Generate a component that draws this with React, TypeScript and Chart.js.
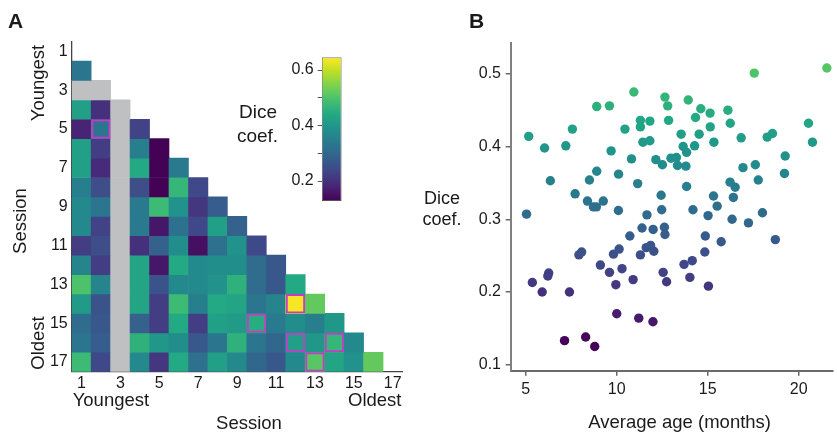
import React, { useEffect, useRef } from 'react';
import { Chart, registerables } from 'chart.js';

Chart.register(...registerables);

const FONT = "'Liberation Sans', Arial, Helvetica, sans-serif";

// ---------- Panel A data: pairwise Dice coefficients between sessions ----------
const sessions = ['1', '2', '3', '4', '5', '6', '7', '8', '9', '10', '11', '12', '13', '14', '15', '16', '17'];
const sessionTicks = [1, 3, 5, 7, 9, 11, 13, 15, 17];
// row r holds the values for columns 1..r-1 ; null = missing session (3)
const row01: (number | null)[] = [];
const row02 = [0.33];
const row03 = [null, null];
const row04 = [0.42, 0.2, null];
const row05 = [0.18, 0.33, null, 0.23];
const row06 = [0.42, 0.22, null, 0.35, 0.13];
const row07 = [0.42, 0.19, null, 0.44, 0.13, 0.34];
const row08 = [0.35, 0.25, null, 0.25, 0.13, 0.47, 0.24];
const row09 = [0.37, 0.33, null, 0.34, 0.48, 0.39, 0.21, 0.28];
const row10 = [0.37, 0.23, null, 0.34, 0.16, 0.32, 0.24, 0.42, 0.29];
const row11 = [0.22, 0.25, null, 0.2, 0.29, 0.38, 0.15, 0.32, 0.39, 0.24];
const row12 = [0.36, 0.22, null, 0.43, 0.16, 0.44, 0.37, 0.38, 0.38, 0.31, 0.27];
const row13 = [0.5, 0.36, null, 0.43, 0.26, 0.37, 0.37, 0.39, 0.46, 0.31, 0.27, 0.44];
const row14 = [0.41, 0.26, null, 0.43, 0.22, 0.48, 0.35, 0.44, 0.43, 0.33, 0.36, 0.64, 0.52];
const row15 = [0.31, 0.27, null, 0.29, 0.22, 0.44, 0.22, 0.42, 0.41, 0.45, 0.34, 0.38, 0.35, 0.4];
const row16 = [0.33, 0.28, null, 0.46, 0.4, 0.38, 0.27, 0.33, 0.46, 0.33, 0.3, 0.42, 0.4, 0.47, 0.37];
const row17 = [0.48, 0.24, null, 0.37, 0.21, 0.44, 0.32, 0.42, 0.37, 0.3, 0.27, 0.37, 0.51, 0.43, 0.39, 0.52];
const diceRows = [row01, row02, row03, row04, row05, row06, row07, row08, row09, row10, row11, row12, row13, row14, row15, row16, row17];
// highlighted cells [row, column]
const highlightRows = [5, 14, 15, 16, 16, 17];
const highlightCols = [2, 12, 10, 12, 14, 13];

// colour bar
const cbarMin = 0.128;
const cbarMax = 0.646;
const cbarTicks = [0.2, 0.3, 0.4, 0.5, 0.6];
const cbarLabelled = [0.2, 0.4, 0.6];

// ---------- Panel B data: Dice coefficient vs average age ----------
const ageMonths = [
  5.16, 5.04, 6.03, 6.35, 5.36, 5.9, 6.26, 6.21, 7.2, 7.56,
  7.71, 7.4, 7.13, 8.29, 8.79, 7.92, 8.07, 8.9, 9.6, 8.5,
  8.9, 8.39, 8.72, 8.88, 9.26, 9.69, 9.1, 9.6, 9.82, 10.13,
  9.95, 10.29, 10.0, 10.09, 10.1, 10.45, 10.81, 10.94, 11.15, 10.72,
  10.9, 11.3, 11.39, 11.21, 11.99, 11.3, 11.3, 11.44, 11.82, 11.82,
  11.66, 11.62, 11.86, 12.04, 12.0, 12.15, 12.51, 12.65, 12.8, 12.85,
  12.44, 12.47, 12.62, 12.65, 12.55, 12.74, 12.98, 13.28, 13.34, 13.8,
  13.54, 13.65, 13.84, 13.93, 13.84, 14.19, 13.7, 14.15, 14.02, 14.33,
  14.28, 14.53, 14.62, 15.13, 15.14, 15.34, 14.87, 14.84, 15.04, 15.02,
  15.32, 15.52, 15.74, 16.11, 16.24, 16.23, 16.51, 16.41, 16.34, 16.84,
  16.94, 17.24, 17.56, 17.62, 17.78, 18.01, 18.27, 18.56, 18.72, 19.26,
  19.22, 20.54, 20.76, 21.55,
];
const diceCoef = [
  0.414, 0.307, 0.398, 0.353, 0.213, 0.2, 0.226, 0.222, 0.401, 0.424,
  0.335, 0.2, 0.133, 0.138, 0.125, 0.251, 0.255, 0.455, 0.456, 0.354,
  0.366, 0.325, 0.317, 0.317, 0.325, 0.394, 0.237, 0.227, 0.252, 0.259,
  0.21, 0.232, 0.17, 0.312, 0.362, 0.424, 0.383, 0.475, 0.349, 0.277,
  0.217, 0.251, 0.288, 0.164, 0.159, 0.436, 0.427, 0.406, 0.435, 0.408,
  0.306, 0.261, 0.264, 0.256, 0.286, 0.382, 0.375, 0.468, 0.456, 0.436,
  0.333, 0.313, 0.289, 0.279, 0.227, 0.214, 0.384, 0.385, 0.374, 0.373,
  0.417, 0.4, 0.392, 0.464, 0.345, 0.313, 0.238, 0.243, 0.22, 0.44,
  0.401, 0.417, 0.452, 0.446, 0.427, 0.406, 0.277, 0.255, 0.208, 0.305,
  0.332, 0.318, 0.269, 0.45, 0.432, 0.351, 0.344, 0.33, 0.3, 0.412,
  0.371, 0.295, 0.501, 0.375, 0.354, 0.309, 0.413, 0.418, 0.272, 0.387,
  0.363, 0.432, 0.406, 0.508,
];
const ageTicks = [5, 10, 15, 20];
const diceTicks = [0.1, 0.2, 0.3, 0.4, 0.5];

// ---------- styles ----------
const VIRIDIS = ['#440154', '#482475', '#414487', '#355f8d', '#2a788e', '#21918c', '#22a884', '#44bf70', '#7ad151', '#bddf26', '#fde725'];
const MISSING = '#bec0c2';
const HILITE = '#c63cc6';
const TXT = '#1a1a1a';

function hexToRgb(h: string) {
  return [parseInt(h.slice(1, 3), 16), parseInt(h.slice(3, 5), 16), parseInt(h.slice(5, 7), 16)];
}
function viridis(v: number) {
  let t = (v - cbarMin) / (cbarMax - cbarMin);
  t = Math.max(0, Math.min(1, t));
  const p = t * (VIRIDIS.length - 1);
  const i = Math.min(Math.floor(p), VIRIDIS.length - 2);
  const f = p - i;
  const a = hexToRgb(VIRIDIS[i]);
  const b = hexToRgb(VIRIDIS[i + 1]);
  const c = a.map((x, k) => Math.round(x + (b[k] - x) * f));
  return `rgb(${c[0]},${c[1]},${c[2]})`;
}

function Label(props: { x: number; y: number; size: number; text: string; align?: 'left' | 'center' | 'right'; bold?: boolean }) {
  const { x, y, size, text, align = 'left', bold = false } = props;
  const tx = align === 'center' ? '-50%' : align === 'right' ? '-100%' : '0';
  return (
    <div
      style={{
        position: 'absolute',
        left: x,
        top: y - 0.8465 * size,
        fontFamily: FONT,
        fontSize: size,
        lineHeight: `${size}px`,
        fontWeight: bold ? 'bold' : 'normal',
        color: TXT,
        whiteSpace: 'nowrap',
        transform: `translateX(${tx})`,
      }}
    >
      {text}
    </div>
  );
}

function VLabel(props: { cx: number; cy: number; size: number; text: string }) {
  const { cx, cy, size, text } = props;
  return (
    <div
      style={{
        position: 'absolute',
        left: cx,
        top: cy,
        fontFamily: FONT,
        fontSize: size,
        lineHeight: `${size}px`,
        color: TXT,
        whiteSpace: 'nowrap',
        transform: 'translate(-50%, -50%) rotate(-90deg)',
      }}
    >
      {text}
    </div>
  );
}

export default function App() {
  const heatRef = useRef<HTMLCanvasElement>(null);
  const cbarRef = useRef<HTMLCanvasElement>(null);
  const scatRef = useRef<HTMLCanvasElement>(null);

  useEffect(() => {
    const charts: Chart[] = [];
    const tickFont = { family: FONT, size: 16 };

    // ----- heatmap -----
    const cellSets: any[] = diceRows.map((vals, ri) => {
      const row = ri + 1;
      return {
        label: `Session ${row}`,
        data: sessions.map((_, ci) => (ci < vals.length ? [row - 0.5, row + 0.5] : null)),
        backgroundColor: sessions.map((_, ci) => {
          if (ci >= vals.length) return 'rgba(0,0,0,0)';
          const v = vals[ci];
          return v == null ? MISSING : viridis(v);
        }),
        borderWidth: 0,
        grouped: false,
        barPercentage: 1,
        categoryPercentage: 1,
        order: 2,
      };
    });
    // outlines: lower order is drawn on top
    const hiSets: any[] = highlightRows.map((row, k) => ({
      label: `highlight ${k}`,
      data: sessions.map((_, ci) => (ci + 1 === highlightCols[k] ? [row - 0.5, row + 0.5] : null)),
      backgroundColor: 'rgba(0,0,0,0)',
      borderColor: HILITE,
      borderWidth: 2,
      borderSkipped: false,
      inflateAmount: 0,
      grouped: false,
      barPercentage: 1,
      categoryPercentage: 1,
      order: 1,
    }));

    if (heatRef.current) {
      charts.push(
        new Chart(heatRef.current, {
          type: 'bar',
          data: { labels: sessions, datasets: [...hiSets, ...cellSets] },
          options: {
            animation: false,
            responsive: true,
            maintainAspectRatio: false,
            layout: { padding: { left: 0, right: 17.5, top: 41.6, bottom: 0 } },
            plugins: { legend: { display: false }, tooltip: { enabled: false } },
            scales: {
              x: {
                type: 'category',
                offset: true,
                afterFit: (s: any) => {
                  s.height = 63.3;
                },
                grid: { display: false, drawTicks: false },
                border: { display: true, color: '#444', width: 1.3 },
                ticks: {
                  autoSkip: false,
                  maxRotation: 0,
                  padding: 2,
                  font: tickFont,
                  color: TXT,
                  callback: (_v: any, i: number) => (sessionTicks.includes(i + 1) ? sessions[i] : ''),
                },
              },
              y: {
                type: 'linear',
                reverse: true,
                min: 0.5,
                max: 17.5,
                afterFit: (s: any) => {
                  s.width = 71.7;
                },
                afterBuildTicks: (s: any) => {
                  s.ticks = sessionTicks.map((v) => ({ value: v }));
                },
                grid: { display: false, drawTicks: false },
                border: { display: true, color: '#444', width: 1.3 },
                ticks: { padding: 4, font: tickFont, color: TXT, callback: (v: any) => String(v) },
              },
            },
          },
        } as any)
      );
    }

    // ----- colour bar -----
    if (cbarRef.current) {
      charts.push(
        new Chart(cbarRef.current, {
          type: 'bar',
          data: {
            labels: ['Dice coef.'],
            datasets: [
              {
                data: [[cbarMin, cbarMax]],
                backgroundColor: (ctx: any) => {
                  const area = ctx.chart.chartArea;
                  if (!area) return VIRIDIS[5];
                  const g = ctx.chart.ctx.createLinearGradient(0, area.bottom, 0, area.top);
                  VIRIDIS.forEach((c, i) => g.addColorStop(i / (VIRIDIS.length - 1), c));
                  return g;
                },
                borderColor: '#555',
                borderWidth: 1,
                borderSkipped: false,
                inflateAmount: 0,
                barPercentage: 1,
                categoryPercentage: 1,
              },
            ],
          },
          options: {
            animation: false,
            responsive: true,
            maintainAspectRatio: false,
            layout: { padding: { left: 0, right: 8.3, top: 17.3, bottom: 19 } },
            plugins: { legend: { display: false }, tooltip: { enabled: false } },
            scales: {
              x: { display: false },
              y: {
                type: 'linear',
                min: cbarMin,
                max: cbarMax,
                afterFit: (s: any) => {
                  s.width = 71.7;
                },
                afterBuildTicks: (s: any) => {
                  s.ticks = cbarTicks.map((v) => ({ value: v }));
                },
                grid: { drawOnChartArea: false, drawTicks: true, tickLength: 4, color: '#555', lineWidth: 1 },
                border: { display: false },
                ticks: {
                  padding: 4,
                  font: tickFont,
                  color: TXT,
                  callback: (v: any) => (cbarLabelled.some((l) => Math.abs(l - v) < 1e-6) ? Number(v).toFixed(1) : ''),
                },
              },
            },
          },
        } as any)
      );
    }

    // ----- scatter -----
    if (scatRef.current) {
      const pts = ageMonths.map((a, i) => ({ x: a, y: diceCoef[i] }));
      charts.push(
        new Chart(scatRef.current, {
          type: 'scatter',
          data: {
            datasets: [
              {
                label: 'Dice coef.',
                data: pts,
                backgroundColor: diceCoef.map((v) => viridis(v)),
                borderWidth: 0,
                pointRadius: 4.7,
                pointHoverRadius: 4.7,
                clip: false,
              },
            ],
          },
          options: {
            animation: false,
            responsive: true,
            maintainAspectRatio: false,
            layout: { padding: { left: 0, right: 0.3, top: 43.3, bottom: 0 } },
            plugins: { legend: { display: false }, tooltip: { enabled: false } },
            scales: {
              x: {
                type: 'linear',
                min: 4.17,
                max: 21.85,
                afterFit: (s: any) => {
                  s.height = 64.3;
                },
                afterBuildTicks: (s: any) => {
                  s.ticks = ageTicks.map((v) => ({ value: v }));
                },
                grid: { drawOnChartArea: false, drawTicks: true, tickLength: 5, color: '#666', lineWidth: 1.5 },
                border: { display: true, color: '#6a6a6a', width: 2 },
                ticks: { padding: 4, font: tickFont, color: TXT, callback: (v: any) => String(v) },
              },
              y: {
                type: 'linear',
                min: 0.0917,
                max: 0.542,
                afterFit: (s: any) => {
                  s.width = 90.7;
                },
                afterBuildTicks: (s: any) => {
                  s.ticks = diceTicks.map((v) => ({ value: v }));
                },
                grid: { drawOnChartArea: false, drawTicks: true, tickLength: 5, color: '#666', lineWidth: 1.5 },
                border: { display: true, color: '#808080', width: 2 },
                ticks: { padding: 4.7, font: tickFont, color: TXT, callback: (v: any) => Number(v).toFixed(1) },
              },
            },
          },
        } as any)
      );
    }

    return () => {
      charts.forEach((c) => c.destroy());
    };
  }, []);

  return (
    <div style={{ position: 'fixed', left: 0, top: 0, width: 837, height: 435, background: '#fff', overflow: 'hidden' }}>
      <div style={{ position: 'absolute', left: 0, top: 0, width: 420, height: 435 }}>
        <canvas ref={heatRef} />
      </div>
      <div style={{ position: 'absolute', left: 250, top: 40, width: 100, height: 180 }}>
        <canvas ref={cbarRef} />
      </div>
      <div style={{ position: 'absolute', left: 420, top: 0, width: 417, height: 435 }}>
        <canvas ref={scatRef} />
      </div>

      {/* Panel A texts */}
      <Label x={8} y={28} size={21} text="A" bold />
      <VLabel cx={37.5} cy={83} size={18.5} text="Youngest" />
      <VLabel cx={20} cy={221} size={18.5} text="Session" />
      <VLabel cx={37.5} cy={342.5} size={18.5} text="Oldest" />
      <Label x={72.7} y={406.8} size={18.5} text="Youngest" />
      <Label x={401.5} y={406.8} size={18.5} text="Oldest" align="right" />
      <Label x={249} y={430} size={18.5} text="Session" align="center" />
      <Label x={258} y={118.3} size={19} text="Dice" align="center" />
      <Label x={257.5} y={141.7} size={19} text="coef." align="center" />

      {/* Panel B texts */}
      <Label x={469} y={28} size={21} text="B" bold />
      <Label x={442} y={204.5} size={18} text="Dice" align="center" />
      <Label x={442} y={225.5} size={18} text="coef." align="center" />
      <Label x={679.7} y={428.5} size={18.5} text="Average age (months)" align="center" />
    </div>
  );
}
